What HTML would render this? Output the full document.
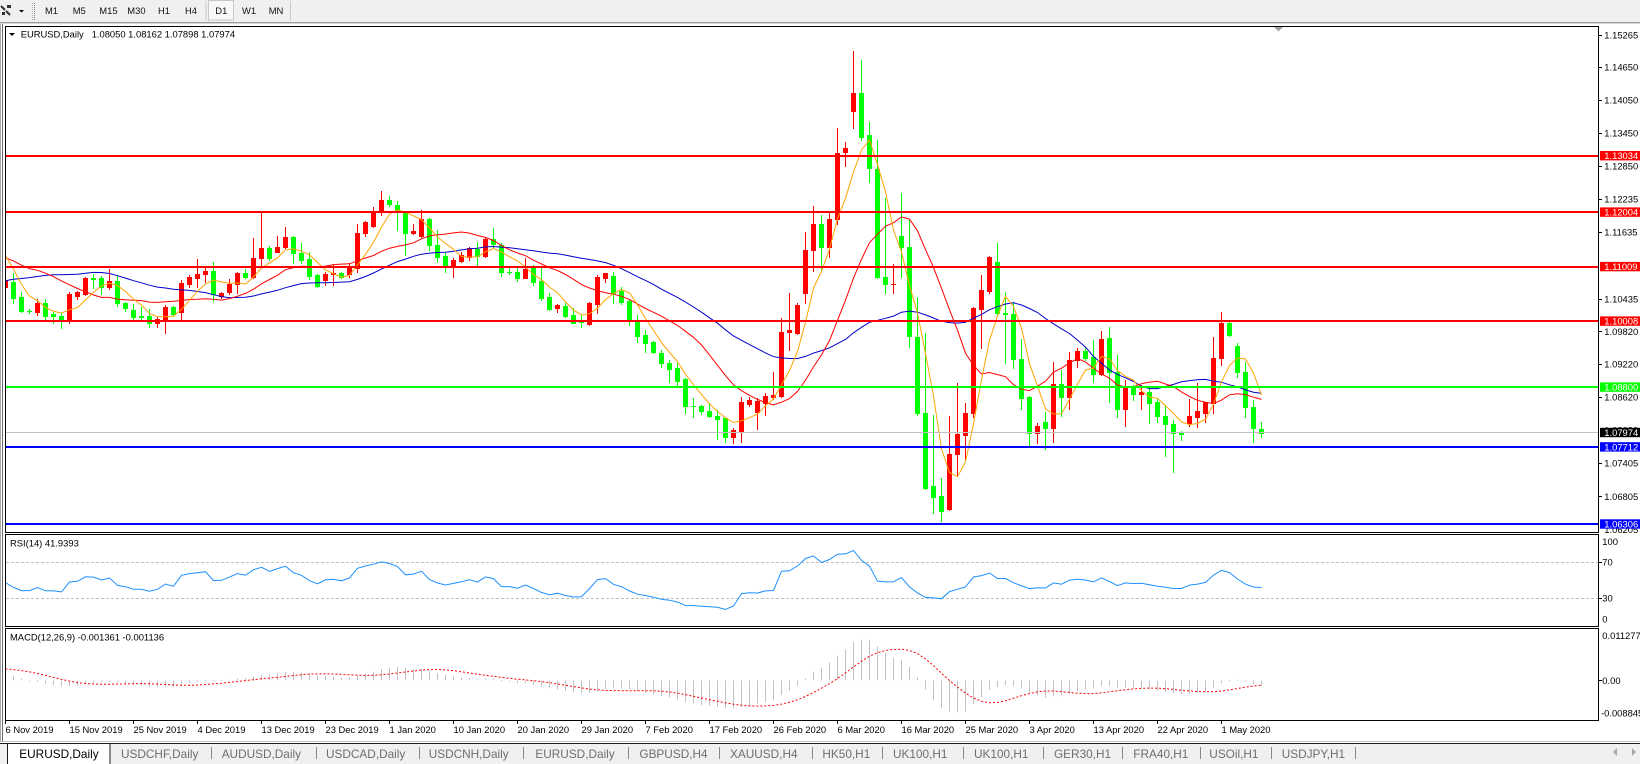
<!DOCTYPE html>
<html><head><meta charset="utf-8">
<style>
html,body{margin:0;padding:0;background:#fff;width:1640px;height:764px;overflow:hidden}
svg{display:block}
text{font-family:"Liberation Sans",Arial,sans-serif;}
.ax{font-size:9.4px;fill:#000}
.tb{font-size:9.4px;fill:#111}
.tab{font-size:11.8px;fill:#6e6e6e}
.wt{font-size:9.4px;fill:#fff}
</style></head><body>
<svg id="s" width="1640" height="764" viewBox="0 0 1640 764" xmlns="http://www.w3.org/2000/svg">
<defs>
<clipPath id="cm"><rect x="6" y="27" width="1592" height="505"/></clipPath>
<clipPath id="cr"><rect x="6" y="535" width="1592" height="91"/></clipPath>
<clipPath id="cd"><rect x="6" y="629" width="1592" height="91"/></clipPath>
</defs>
<rect x="0" y="0" width="1640" height="764" fill="#ffffff"/>
<!-- toolbar -->
<rect x="0" y="0" width="1640" height="22" fill="#F0F0F0"/>
<rect x="0" y="22" width="1640" height="1" fill="#9A9A9A"/>
<rect x="0" y="23" width="1640" height="1" fill="#D8D8D8"/>
<path d="M1 6 L5 10 M6 11 L10 15" stroke="#333" stroke-width="2" fill="none"/>
<rect x="7" y="5" width="4" height="3" fill="#333"/>
<rect x="2" y="12" width="3" height="3" fill="#333"/>
<polygon points="19,10 24,10 21.5,12.5" fill="#000"/>
<line x1="32.5" y1="3" x2="32.5" y2="20" stroke="#B0B0B0" stroke-dasharray="1,1"/>
<line x1="34.5" y1="3" x2="34.5" y2="20" stroke="#808080" stroke-dasharray="1,1"/>
<text class="tb" x="45" y="14.2">M1</text>
<text class="tb" x="72.7" y="14.2">M5</text>
<text class="tb" x="99.3" y="14.2">M15</text>
<text class="tb" x="127.3" y="14.2">M30</text>
<text class="tb" x="158" y="14.2">H1</text>
<text class="tb" x="185" y="14.2">H4</text>
<rect x="205.5" y="1" width="1" height="20" fill="#C8C8C8"/>
<rect x="208.5" y="0.5" width="25" height="19.5" fill="#F8F8F8" stroke="#C8C8C8"/>
<text class="tb" x="215.3" y="14.2">D1</text>
<text class="tb" x="242" y="14.2">W1</text>
<text class="tb" x="268.7" y="14.2">MN</text>
<rect x="290" y="1" width="1" height="20" fill="#C8C8C8"/>
<!-- window frame -->
<rect x="0" y="24" width="1" height="717" fill="#A8A8A8"/>
<rect x="2" y="24" width="1" height="717" fill="#6A6A6A"/>
<!-- panels -->
<rect x="5.5" y="26.5" width="1593" height="506" fill="none" stroke="#000"/>
<rect x="5.5" y="534.5" width="1593" height="92" fill="none" stroke="#000"/>
<rect x="5.5" y="628.5" width="1593" height="92" fill="none" stroke="#000"/>
<polygon points="1274,27 1283,27 1278.5,31.5" fill="#A0A0A0"/>
<g id="main" clip-path="url(#cm)"></g>
<g id="rsi" clip-path="url(#cr)">
<line x1="6" y1="562.5" x2="1598" y2="562.5" stroke="#C0C0C0" stroke-dasharray="3,2"/>
<line x1="6" y1="598.5" x2="1598" y2="598.5" stroke="#C0C0C0" stroke-dasharray="3,2"/>
</g>
<g id="macd" clip-path="url(#cd)"></g>
<g clip-path="url(#cm)" shape-rendering="crispEdges">
<rect x="6" y="155" width="1592" height="2" fill="#FF0000"/>
<rect x="6" y="211" width="1592" height="2" fill="#FF0000"/>
<rect x="6" y="266" width="1592" height="2" fill="#FF0000"/>
<rect x="6" y="320" width="1592" height="2" fill="#FF0000"/>
<rect x="6" y="386" width="1592" height="2" fill="#00FF00"/>
<rect x="6" y="432" width="1592" height="1" fill="#C0C0C0"/>
<rect x="6" y="446" width="1592" height="2" fill="#0000FF"/>
<rect x="6" y="523" width="1592" height="2" fill="#0000FF"/>
</g>
<!-- header -->
<polygon points="9,33 15,33 12,36" fill="#000"/>
<text class="ax" x="20.7" y="37.7">EURUSD,Daily</text>
<text class="ax" x="91.7" y="37.7">1.08050 1.08162 1.07898 1.07974</text>
<text class="ax" x="10" y="546.7">RSI(14) 41.9393</text>
<text class="ax" x="10" y="640.7">MACD(12,26,9) -0.001361 -0.001136</text>
<!-- price axis -->
<g fill="#000" shape-rendering="crispEdges">
<rect x="1599" y="35" width="3" height="1"/><rect x="1599" y="67" width="3" height="1"/><rect x="1599" y="100" width="3" height="1"/><rect x="1599" y="133" width="3" height="1"/><rect x="1599" y="166" width="3" height="1"/><rect x="1599" y="199" width="3" height="1"/><rect x="1599" y="232" width="3" height="1"/><rect x="1599" y="299" width="3" height="1"/><rect x="1599" y="331" width="3" height="1"/><rect x="1599" y="364" width="3" height="1"/><rect x="1599" y="397" width="3" height="1"/><rect x="1599" y="463" width="3" height="1"/><rect x="1599" y="496" width="3" height="1"/>
<rect x="1599" y="562" width="3" height="1"/><rect x="1599" y="598" width="3" height="1"/><rect x="1599" y="680" width="3" height="1"/>
</g>
<text class="ax" x="1604.3" y="38.4">1.15265</text>
<text class="ax" x="1604.3" y="70.7">1.14650</text>
<text class="ax" x="1604.3" y="103.7">1.14050</text>
<text class="ax" x="1604.3" y="136.7">1.13450</text>
<text class="ax" x="1604.3" y="169.7">1.12850</text>
<text class="ax" x="1604.3" y="202.7">1.12235</text>
<text class="ax" x="1604.3" y="235.7">1.11635</text>
<text class="ax" x="1604.3" y="268.7">1.11035</text>
<text class="ax" x="1604.3" y="302.4">1.10435</text>
<text class="ax" x="1604.3" y="335.1">1.09820</text>
<text class="ax" x="1604.3" y="367.7">1.09220</text>
<text class="ax" x="1604.3" y="400.7">1.08620</text>
<text class="ax" x="1604.3" y="433.7">1.08020</text>
<text class="ax" x="1604.3" y="466.7">1.07405</text>
<text class="ax" x="1604.3" y="500.1">1.06805</text>
<text class="ax" x="1604.3" y="533.2">1.06205</text>
<rect x="1600" y="151" width="40" height="9.4" fill="#FF0000"/><text class="wt" x="1604.3" y="159.1">1.13034</text>
<rect x="1600" y="207.4" width="40" height="9.4" fill="#FF0000"/><text class="wt" x="1604.3" y="215.5">1.12004</text>
<rect x="1600" y="261.9" width="40" height="9.4" fill="#FF0000"/><text class="wt" x="1604.3" y="270">1.11009</text>
<rect x="1600" y="316.4" width="40" height="9.4" fill="#FF0000"/><text class="wt" x="1604.3" y="324.5">1.10008</text>
<rect x="1600" y="382.4" width="40" height="9.4" fill="#00FF00"/><text class="wt" x="1604.3" y="390.5">1.08800</text>
<rect x="1600" y="427.8" width="40" height="9.4" fill="#000000"/><text class="wt" x="1604.3" y="435.9">1.07974</text>
<rect x="1600" y="442.2" width="40" height="9.4" fill="#0000FF"/><text class="wt" x="1604.3" y="450.3">1.07712</text>
<rect x="1600" y="519.3" width="40" height="9.4" fill="#0000FF"/><text class="wt" x="1604.3" y="527.4">1.06306</text>
<!-- rsi / macd axis -->
<text class="ax" x="1602.3" y="545.1">100</text>
<text class="ax" x="1602.3" y="565.7">70</text>
<text class="ax" x="1602.3" y="601.7">30</text>
<text class="ax" x="1602.3" y="622.4">0</text>
<text class="ax" x="1602.3" y="639.1">0.011277</text>
<text class="ax" x="1602.3" y="684.1">0.00</text>
<text class="ax" x="1601" y="716.7">-0.008845</text>
<!-- time axis -->
<g fill="#000" shape-rendering="crispEdges">
<rect x="5" y="721" width="1" height="3"/><rect x="69" y="721" width="1" height="3"/><rect x="133" y="721" width="1" height="3"/><rect x="197" y="721" width="1" height="3"/><rect x="261" y="721" width="1" height="3"/><rect x="325" y="721" width="1" height="3"/><rect x="389" y="721" width="1" height="3"/><rect x="453" y="721" width="1" height="3"/><rect x="517" y="721" width="1" height="3"/><rect x="581" y="721" width="1" height="3"/><rect x="645" y="721" width="1" height="3"/><rect x="709" y="721" width="1" height="3"/><rect x="773" y="721" width="1" height="3"/><rect x="837" y="721" width="1" height="3"/><rect x="901" y="721" width="1" height="3"/><rect x="965" y="721" width="1" height="3"/><rect x="1029" y="721" width="1" height="3"/><rect x="1093" y="721" width="1" height="3"/><rect x="1157" y="721" width="1" height="3"/><rect x="1221" y="721" width="1" height="3"/>
</g>
<text class="ax" x="5.5" y="733">6 Nov 2019</text>
<text class="ax" x="69.5" y="733">15 Nov 2019</text>
<text class="ax" x="133.5" y="733">25 Nov 2019</text>
<text class="ax" x="197.5" y="733">4 Dec 2019</text>
<text class="ax" x="261.5" y="733">13 Dec 2019</text>
<text class="ax" x="325.5" y="733">23 Dec 2019</text>
<text class="ax" x="389.5" y="733">1 Jan 2020</text>
<text class="ax" x="453.5" y="733">10 Jan 2020</text>
<text class="ax" x="517.5" y="733">20 Jan 2020</text>
<text class="ax" x="581.5" y="733">29 Jan 2020</text>
<text class="ax" x="645.5" y="733">7 Feb 2020</text>
<text class="ax" x="709.5" y="733">17 Feb 2020</text>
<text class="ax" x="773.5" y="733">26 Feb 2020</text>
<text class="ax" x="837.5" y="733">6 Mar 2020</text>
<text class="ax" x="901.5" y="733">16 Mar 2020</text>
<text class="ax" x="965.5" y="733">25 Mar 2020</text>
<text class="ax" x="1029.5" y="733">3 Apr 2020</text>
<text class="ax" x="1093.5" y="733">13 Apr 2020</text>
<text class="ax" x="1157.5" y="733">22 Apr 2020</text>
<text class="ax" x="1221.5" y="733">1 May 2020</text>
<!-- tab bar -->
<rect x="0" y="741" width="1640" height="1" fill="#C4C4C4"/>
<rect x="0" y="743" width="1640" height="21" fill="#F0F0F0"/>
<rect x="0" y="743" width="1640" height="1" fill="#1A1A1A"/>
<rect x="7.5" y="743.5" width="102.5" height="21" fill="#FFFFFF" stroke="#1A1A1A"/>
<text x="19.3" y="757.8" style="font-size:11.8px;fill:#000">EURUSD,Daily</text>
<text class="tab" x="121" y="757.8">USDCHF,Daily</text>
<text class="tab" x="221.7" y="757.8">AUDUSD,Daily</text>
<text class="tab" x="326" y="757.8">USDCAD,Daily</text>
<text class="tab" x="428.7" y="757.8">USDCNH,Daily</text>
<text class="tab" x="535.4" y="757.8">EURUSD,Daily</text>
<text class="tab" x="639.4" y="757.8">GBPUSD,H4</text>
<text class="tab" x="730" y="757.8">XAUUSD,H4</text>
<text class="tab" x="822.4" y="757.8">HK50,H1</text>
<text class="tab" x="893" y="757.8">UK100,H1</text>
<text class="tab" x="974" y="757.8">UK100,H1</text>
<text class="tab" x="1054" y="757.8">GER30,H1</text>
<text class="tab" x="1133.3" y="757.8">FRA40,H1</text>
<text class="tab" x="1209.3" y="757.8">USOil,H1</text>
<text class="tab" x="1281.7" y="757.8">USDJPY,H1</text>
<g fill="#8A8A8A" shape-rendering="crispEdges">
<rect x="211" y="747" width="1" height="12"/><rect x="316" y="747" width="1" height="12"/><rect x="419" y="747" width="1" height="12"/><rect x="523" y="747" width="1" height="12"/><rect x="628" y="747" width="1" height="12"/><rect x="719" y="747" width="1" height="12"/><rect x="812" y="747" width="1" height="12"/><rect x="882" y="747" width="1" height="12"/><rect x="963" y="747" width="1" height="12"/><rect x="1043" y="747" width="1" height="12"/><rect x="1122" y="747" width="1" height="12"/><rect x="1200" y="747" width="1" height="12"/><rect x="1271" y="747" width="1" height="12"/><rect x="1355" y="747" width="1" height="12"/>
</g>
<polygon points="1617,748 1617,756 1613,752" fill="#A8A8A8"/>
<polygon points="1632,748 1632,756 1636,752" fill="#A8A8A8"/>
</svg>
<script>
(function(){
var NS='http://www.w3.org/2000/svg';
function el(t,a,p){var e=document.createElementNS(NS,t);for(var k in a)e.setAttribute(k,a[k]);p.appendChild(e);return e;}
var D=[[286.7,280,271.7,287.3],[281.7,297.7,272.7,302.7],[296.7,311,292.3,311.7],[310.7,311,308.7,313.3],[312.3,302.7,299.3,315],[303.3,315.7,299.3,320],[314.3,316,311.7,322.7],[315.7,320,312.7,328.3],[320.7,294,291.7,322.7],[295.7,292,290.7,298.7],
[294,277.7,276.7,295],[278,278.7,274,288.3],[277.7,286.7,276,294],[286.7,281,269,289.3],[281,303.3,274.7,305.7],[303.3,307.7,301.7,310.7],[310,316.7,304,319.3],[316,316.7,306.7,319.3],[316,323.3,309.3,326.7],[323.3,319.3,316.7,326.7],
[320.7,307.3,305,332.7],[307.3,314,306,315.7],[311.7,283.3,280,320],[284,277.3,275,286.7],[277.7,274.3,259,286.7],[274.3,271,266,281.7],[271,294,262.3,300.7],[295.7,293.3,291.7,298.3],[292.3,284,279,294],[284,272.7,271.7,293.3],
[273.3,276.7,269,278.3],[276.7,258.3,238.3,277.7],[258.3,248.3,212.3,265],[248.3,258.3,245.7,260],[251.7,247.3,236,252.3],[247.3,237.3,227.3,248.3],[237.3,253.3,236,262.7],[252.7,260,243.3,263.3],[259.3,276,251.7,279],[275.3,286,274,286.7],
[280,274,271.7,285],[274.3,272.7,265,285],[272.7,276.7,271.7,278.3],[274,268.3,263.3,276.7],[268.3,232.7,224,271.7],[233.3,221.7,220.7,236],[226,212.7,206.7,227.3],[211.7,200,191,215],[200,204,196,205.7],[205,211,201,230],
[212.7,233.3,211.7,255],[232.7,230.7,224,234],[236,219.3,210,237.3],[219,245,218.3,250],[245,257.3,230,261.7],[256,265,251.7,271.7],[265,260,258.3,276.7],[260.7,255,251.7,261.7],[257.3,248.3,246.7,260],[249.3,256,241.7,265],
[256,239.3,237.3,256.7],[239.3,244.3,228.3,246.7],[245,271.7,243.3,275.7],[271.7,272,268.3,274],[271.7,277.7,266.7,280.7],[277.7,269.3,258.3,278.3],[268.3,281.7,265,285],[281,297.7,266.7,300],[296.7,309.3,293.3,310],[308.3,305,304,311.7],
[306,315.7,302.7,316.7],[315,322.7,308.3,323.3],[321.7,322,315,326.7],[324,303.3,301.7,325],[304,276.7,275,313.3],[278.3,273.3,272.7,281.7],[276,292.7,271.7,303.3],[290.7,301.7,286.7,304],[301,320,299.3,325],[320.7,335.7,315,341.7],
[335,342.7,330,351.7],[341.7,351.7,340.7,353.3],[352.7,363.3,350,366.7],[362.7,369,360,381.7],[368.3,380.7,363.3,385],[379.3,405.7,378.3,413.3],[405.7,406,398.3,416.7],[406,410.7,405,414],[411,415.7,403.3,416.7],[415.7,419.3,410,439.3],
[418.3,436.7,416.7,441.7],[436.7,430,428.3,443.3],[430.7,402.3,397.3,441.7],[404,400,397.3,406],[411.7,401,398.3,429.3],[402.7,396,392.7,415],[397.3,395,371.7,399.3],[396,331.7,318.3,397.3],[331.7,330,293.3,350],[332.7,305,303.3,334],
[293.3,250,231.7,302.7],[250,224,206,270.7],[224,247,215,270],[246.7,219,212.7,257.3],[219.3,153.3,128.3,224],[152.3,148.3,141.7,166],[110.7,92.7,51,127.7],[92.7,136.7,60,140],[135,168.3,121.7,181.7],[169,277.3,140,278.3],
[277.3,284,198.3,292.7],[284.3,283.7,264,292.7],[236,247.3,193.3,276.7],[247.3,336,220,347.3],[337.3,413.3,296.7,415],[413.3,487.7,333.3,489.3],[486,496.7,415,512.7],[496,511,478.3,520.7],[509.3,454,416,510],[454.3,434,382.7,476],
[435,412.7,403.3,459.3],[412.7,307.7,306.7,416.7],[309.3,290,275,348.3],[290.7,256.7,256,293.3],[261.7,313.3,242.7,314],[313.3,313.7,291.7,362.7],[314,359.3,301.7,368.3],[359.3,398.3,339.3,409.3],[397.3,433.3,396,446],[432.7,426,422.7,443.3],
[421.7,428.3,411.7,449.3],[428.3,384,361.7,441.7],[384,397.3,370,416],[397.3,360,351.7,409.3],[360,351,348.3,367.3],[351,358.3,346.7,360],[356.7,374,340,381.7],[374,339.3,330.7,375],[338.3,371.7,327.3,401.7],[371.7,409.3,355,416.7],
[409.3,387.3,380,426],[387.3,394,385,400],[394,391.7,385,409.3],[391.7,402.7,387.3,422.7],[401.7,416,398.3,421.7],[416,424,405,456],[424,433.3,420,471.7],[433.3,433.7,430.7,440],[423.3,416,399.3,426],[416.7,410.7,383.3,426.7],
[412.7,401.7,401.7,421.7],[403.3,358.3,336.7,413.3],[358.3,322.7,311.7,365],[322.7,335,321.7,336],[346,371.7,343.3,376.7],[371.7,407.3,361.7,417.3],[407.3,428.3,400,441.7],[428.6,432.7,421.7,436.7]];
var PRE=[302.7,297.2,297.2,316.4,286.3,280.8,280.8,321.8,283.5,305.4,299.9,313.6,313.6,327.3,327.3,354.7,365.6,354.7,354.7,377.7,360.2,343.7,341,333.9,335.5,338.3,346.5,338.3,319.1,300,302.7,305.4,302.7,283.5,253.4,237,234.3,239.7,253.4,250.7,264.4,278.1,275.3,267.1,261.6,239.7,239.7,231.5,234.3,252.3,280.8];
var C=PRE.concat(D.map(function(d){return d[1];}));
var P=PRE.length,N=D.length;
function X(i){return 5.5+8*i;}
var gm=document.getElementById('main');
var gc=el('g',{'shape-rendering':'crispEdges'},gm);
D.forEach(function(d,i){
  var o=Math.round(d[0]),c=Math.round(d[1]),h=Math.round(d[2]),l=Math.round(d[3]);
  var col=(d[1]<d[0])?'#FF0000':'#00FF00';
  var cx=5+8*i;
  el('rect',{x:cx,y:h,width:1,height:Math.max(1,l-h+1),fill:col},gc);
  var t=Math.min(o,c),b=Math.max(o,c);
  el('rect',{x:cx-2,y:t,width:5,height:Math.max(1,b-t+1),fill:col},gc);
});
function sma(n,i){var s=0;for(var k=0;k<n;k++)s+=C[P+i-k];return s/n;}
function line(pts,attrs,p){var a={points:pts.map(function(q){return q[0].toFixed(1)+','+q[1].toFixed(1);}).join(' '),fill:'none'};for(var k in attrs)a[k]=attrs[k];return el('polyline',a,p);}
[[30,'#0000CC'],[14,'#FF0000'],[5,'#FFA500']].forEach(function(m){
  var pts=[];for(var i=0;i<N;i++)pts.push([X(i),sma(m[0],i)]);
  line(pts,{stroke:m[1],'stroke-width':1},gm);
});
// RSI
var ag=0,al=0,R=[];
for(var k=1;k<C.length;k++){
  var ch=C[k-1]-C[k],g=ch>0?ch:0,lo=ch<0?-ch:0;
  if(k<=14){ag+=g/14;al+=lo/14;}
  else{ag=(ag*13+g)/14;al=(al*13+lo)/14;}
  R[k]=al===0?100:100-100/(1+ag/al);
}
var rp=[];for(var i=0;i<N;i++){rp.push([X(i),535.3+(100-R[P+i])*0.9]);}
line(rp,{stroke:'#1E90FF','stroke-width':1},document.getElementById('rsi'));
// MACD
var e12=C[0],e26=C[0],M=[];
for(var k=0;k<C.length;k++){if(k>0){e12+=(C[k]-e12)*2/13;e26+=(C[k]-e26)*2/27;}M.push(e12-e26);}
var sc=3990/5474,z=680.7;
var gd=document.getElementById('macd');
var gh=el('g',{'shape-rendering':'crispEdges'},gd);
var sp=[];
for(var i=0;i<N;i++){
  var v=M[P+i],y=z+v*sc;
  var t=Math.min(y,z),b=Math.max(y,z);
  el('rect',{x:5+8*i,y:t.toFixed(1),width:1,height:Math.max(1,b-t).toFixed(1),fill:'#C0C0C0'},gh);
  var s=0;for(var j=0;j<9;j++)s+=M[P+i-j];s/=9;
  sp.push([X(i),z+s*sc]);
}
line(sp,{stroke:'#FF0000','stroke-width':1,'stroke-dasharray':'2,2'},gd);
})();
</script>
</body></html>
